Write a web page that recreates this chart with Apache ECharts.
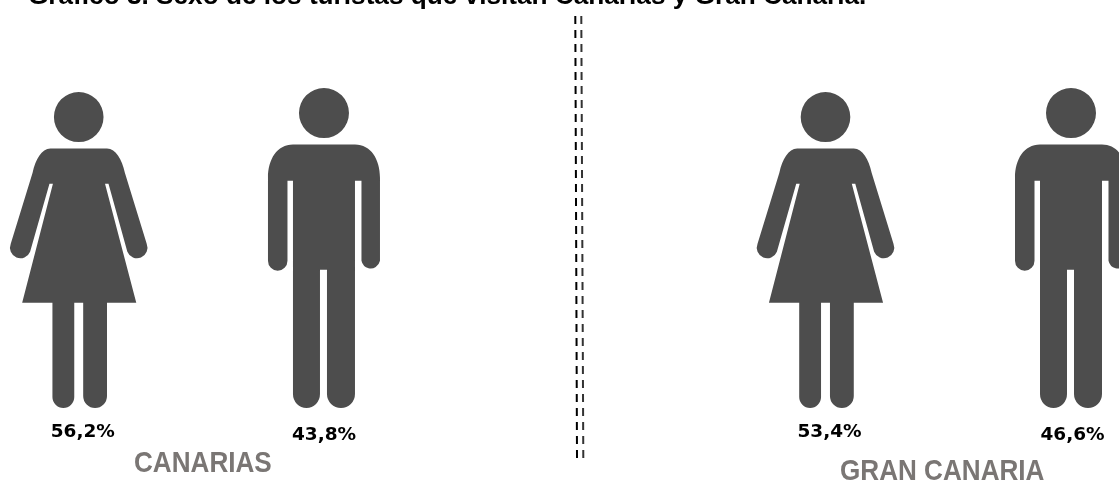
<!DOCTYPE html>
<html><head><meta charset="utf-8">
<style>html,body{margin:0;padding:0;background:#fff}#c{width:1119px;height:483px}</style>
<script src="https://cdn.jsdelivr.net/npm/echarts@6/dist/echarts.min.js"></script>
</head><body><div id="c"></div>
<script>
const chartTitle = 'Gráfico 3. Sexo de los turistas que visitan Canarias y Gran Canaria.';
const categories = ['Mujeres', 'Hombres'];
const canariasValues = [56.2, 43.8];
const granCanariaValues = [53.4, 46.6];
const regionNames = ['CANARIAS', 'GRAN CANARIA'];

const WOMAN = 'path://M53.5,117.5A25,25 0 1 1 103.5,117.5A25,25 0 1 1 53.5,117.5Z' +
  'M50,149L107,149C116,149 122,160 125,173L147,244A10,10 0 0 1 127.5,252L108.5,184L105,184L136.5,303L107,303L107,396A12,12 0 0 1 83,396L83,303L74,303L74,397A11,11 0 0 1 52,397L52,303L21.5,303L52.5,184L49,184L29.5,252A10,10 0 0 1 10,244L32,173C35,160 41,149 50,149Z';
const MAN = 'path://M299,113.5A25,25 0 1 1 349,113.5A25,25 0 1 1 299,113.5Z' +
  'M293,145L355,145C371,145 380,160 380,178L380,261A9.5,10 0 0 1 361.5,261L361.5,181L355,181L355,394A14,14 0 0 1 327,394L327,270L320,270L320,394A13.5,14 0 0 1 293,394L293,181L287.5,181L287.5,261A9.75,10 0 0 1 268,261L268,178C268,160 277,145 293,145Z';

function pct(v){ return v.toFixed(1).replace('.', ',') + '%'; }
const labelFont = {fontFamily:'DejaVu Sans', fontWeight:'bold', fontSize:18.5, color:'#000'};

function items(values, dxW, dxM){
  return values.map((v,i)=>({
    value:v,
    symbol: i===0 ? WOMAN : MAN,
    symbolSize: i===0 ? [137.5,316] : [112,320],
    label:{show:true, position:'bottom', distance:0, formatter:pct(v), ...labelFont,
      offset: i===0 ? [dxW,15] : [dxM,18]}
  }));
}
const grids = [
  {left:-43.9, width:490.5, top:88, height:320, outerBoundsMode:'none'},
  {left:702.75, width:491, top:88, height:320, outerBoundsMode:'none'}
];
function gl(x1,x2,y1,y2,stroke){
  return {type:'line', silent:true, shape:{x1:x1,y1:y1,x2:x2,y2:y2},
    style:{stroke:stroke, lineWidth:2, lineDash:[8,6]}};
}
function txt(x,y,text,fontSize,fill,sx){
  return {type:'text', x:x, y:y, scaleX:sx, silent:true,
    style:{text:text, x:0, y:0, fill:fill, verticalAlign:'bottom', align:'left',
      font:'bold '+fontSize+'px "Liberation Sans"'}};
}
const chart = echarts.init(document.getElementById('c'), null, {renderer:'canvas'});
chart.setOption({
  animation:false,
  backgroundColor:'#fff',
  grid:grids,
  xAxis:[0,1].map(i=>({type:'category', gridIndex:i, data:categories, show:false})),
  yAxis:[0,1].map(i=>({type:'value', gridIndex:i, min:0, max:100, show:false})),
  series:[
    {type:'pictorialBar', name:regionNames[0], xAxisIndex:0, yAxisIndex:0, symbolPosition:'start', barWidth:140, clip:false,
     itemStyle:{color:'#4d4d4d'}, data:items(canariasValues,4,0)},
    {type:'pictorialBar', name:regionNames[1], xAxisIndex:1, yAxisIndex:1, symbolPosition:'start', barWidth:140, clip:false,
     itemStyle:{color:'#4d4d4d'}, data:items(granCanariaValues,4,1.5)}
  ],
  graphic:[
    txt(28,10,chartTitle,26.2,'#000',1),
    gl(575.3,577,16,458,'#000'), gl(581.3,583.3,16,458,'#333'),
    txt(134,479,regionNames[0],30,'#7a7674',0.87),
    txt(840,487,regionNames[1],30,'#7a7674',0.87)
  ]
});
</script></body></html>
